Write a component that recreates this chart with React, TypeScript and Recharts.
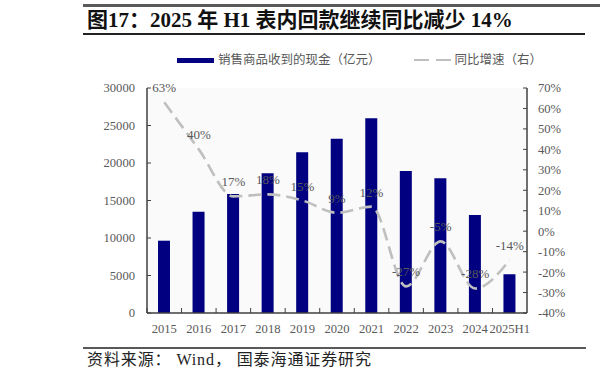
import { ComposedChart, Bar, Line, XAxis, YAxis, LabelList } from 'recharts';

// 销售商品收到的现金（亿元）与同比增速
const years = ['2015', '2016', '2017', '2018', '2019', '2020', '2021', '2022', '2023', '2024', '2025H1'];
const cash = [9640, 13500, 15870, 18630, 21420, 23240, 25960, 18930, 17960, 13070, 5160];
const yoy = [63, 40, 17, 18, 15, 9, 12, -27, -5, -28, -14];
const leftTicks = [0, 5000, 10000, 15000, 20000, 25000, 30000];
const rightTicks = [-40, -30, -20, -10, 0, 10, 20, 30, 40, 50, 60, 70];

const data = years.map((y, i) => ({ y, cash: cash[i], yoy: yoy[i] }));

const NAVY = '#000080';
const LINE = '#bfbfbf';
const TXT = '#595959';
const SERIF = '"Liberation Serif", "Times New Roman", "Noto Sans CJK SC", serif';

const W = 600, H = 380;
const LEFT_W = 147, RIGHT_W = 73;
const PLOT_TOP = 88, PLOT_H = 225;
const STEP = (W - LEFT_W - RIGHT_W) / years.length;

// x 轴：刻度线放在类别之间，朝上
function XTick(props: any) {
  const { x, y, payload } = props;
  const tx = x - STEP / 2;
  return (
    <g>
      <line x1={tx} y1={y} x2={tx} y2={y - 5} stroke="#404040" strokeWidth={1} />
      <text x={x} y={y + 20} textAnchor="middle" fill={TXT} fontSize={12.6} fontFamily={SERIF}>
        {payload.value}
      </text>
    </g>
  );
}

export default function App() {
  return (
    <div style={{ position: 'absolute', left: 0, top: 0, width: W, height: H, background: '#fff', fontFamily: SERIF }}>
      <div style={{ position: 'absolute', left: 83, top: 4, width: 517, height: 2.5, background: '#595959' }} />
      <div style={{
        position: 'absolute', left: 87, top: 10, fontSize: 21, lineHeight: 1, fontWeight: 700, color: '#111',
        whiteSpace: 'nowrap',
      }}>
        图17：2025 年 H1 表内回款继续同比减少 14%
      </div>
      <div style={{ position: 'absolute', left: 83, top: 33, width: 502, height: 1.5, background: '#222' }} />

      <div style={{
        position: 'absolute', left: 177, top: 54, height: 12, fontSize: 12.5, lineHeight: 1, color: TXT,
        display: 'flex', alignItems: 'center', whiteSpace: 'nowrap',
      }}>
        <span style={{ display: 'inline-block', width: 37, height: 5, background: NAVY, marginRight: 4 }} />
        <span>销售商品收到的现金（亿元）</span>
        <span style={{ display: 'inline-block', width: 15, height: 2, background: LINE, marginLeft: 33 }} />
        <span style={{ display: 'inline-block', width: 15, height: 2, background: LINE, marginLeft: 7, marginRight: 4 }} />
        <span>同比增速（右）</span>
      </div>

      <ComposedChart
        width={W} height={H} data={data}
        margin={{ top: PLOT_TOP, right: 0, left: 0, bottom: H - PLOT_TOP - PLOT_H - 30 }}
        style={{ position: 'absolute', left: 0, top: 0 }}
      >
        <rect x={LEFT_W} y={PLOT_TOP} width={W - LEFT_W - RIGHT_W} height={PLOT_H} fill="#fafafa" />
        <XAxis
          dataKey="y" height={30} interval={0}
          tickSize={0} tickMargin={0} tick={<XTick />}
          axisLine={{ stroke: '#404040', strokeWidth: 1.5 }}
        />
        {/* 两侧 y 轴刻度线朝内 */}
        <YAxis
          yAxisId="l" width={LEFT_W} domain={[0, 30000]} ticks={leftTicks}
          tickSize={-4} tickMargin={16}
          axisLine={{ stroke: '#404040', strokeWidth: 1.5 }} tickLine={{ stroke: '#404040' }}
          tick={{ fill: TXT, fontSize: 12.6, fontFamily: SERIF }}
        />
        <YAxis
          yAxisId="r" orientation="right" width={RIGHT_W} domain={[-40, 70]} ticks={rightTicks}
          tickFormatter={(v: number) => `${v}%`}
          tickSize={-4} tickMargin={15}
          axisLine={{ stroke: '#404040', strokeWidth: 1.5 }} tickLine={{ stroke: '#404040' }}
          tick={{ fill: TXT, fontSize: 12.6, fontFamily: SERIF, textAnchor: 'start' }}
        />
        <Bar yAxisId="l" dataKey="cash" fill={NAVY} barSize={12} isAnimationActive={false} />
        <Line
          yAxisId="r" dataKey="yoy" type="monotone" stroke={LINE} strokeWidth={2.6}
          strokeDasharray="13 6" dot={false} activeDot={false} isAnimationActive={false}
        >
          <LabelList
            dataKey="yoy" position="top" offset={10}
            formatter={(v: any) => `${v}%`}
            style={{ fill: TXT, fontSize: 13, fontFamily: SERIF }}
          />
        </Line>
      </ComposedChart>

      <div style={{ position: 'absolute', left: 83, top: 347, width: 503, height: 1.5, background: '#595959' }} />
      <div style={{
        position: 'absolute', left: 87, top: 352, fontSize: 16, lineHeight: 1, color: '#222',
        whiteSpace: 'nowrap', letterSpacing: 0.9,
      }}>
        资料来源： Wind， 国泰海通证券研究
      </div>
    </div>
  );
}
